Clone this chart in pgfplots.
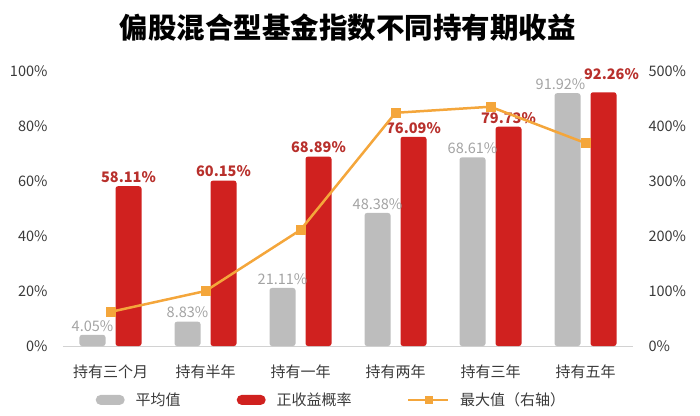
\documentclass[border=0pt]{standalone}
\usepackage{pgfplots}
\pgfplotsset{compat=1.18}
\usepackage{fontspec}
\setmainfont{Noto Sans CJK SC}

\definecolor{bargrey}{HTML}{BDBDBD}
\definecolor{barred}{HTML}{D0211F}
\definecolor{labred}{HTML}{B8302C}
\definecolor{labgrey}{HTML}{A3A3A3}
\definecolor{lineorange}{HTML}{F4A63B}
\definecolor{ticktext}{HTML}{3A3A3A}

% average return
\pgfplotstableread{
x y
0 4.05
1 8.83
2 21.11
3 48.38
4 68.61
5 91.92
}\avgdata
% probability of positive return
\pgfplotstableread{
x y
0 58.11
1 60.15
2 68.89
3 76.09
4 79.73
5 92.26
}\posdata
% maximum (right axis)
\pgfplotstableread{
x y
0 62
1 100
2 211
3 424
4 435
5 369
}\maxdata

\begin{document}
\begin{tikzpicture}
\useasboundingbox (0,0) rectangle (700pt,415pt);

\node[font=\fontsize{28.5}{31}\selectfont\bfseries, text=black] at (347.5pt,387.5pt) {偏股混合型基金指数不同持有期收益};

\begin{axis}[
    at={(63pt,69pt)}, anchor=south west,
    scale only axis, width=570pt, height=275pt,
    xmin=-0.5, xmax=5.5, ymin=0, ymax=100,
    axis line style={draw=none},
    major tick length=0pt,
    xtick={0,...,5},
    xticklabels={持有三个月,持有半年,持有一年,持有两年,持有三年,持有五年},
    xticklabel style={font=\fontsize{15}{17}\selectfont, text=ticktext, yshift=-15pt},
    ytick={0,20,...,100},
    yticklabel={\pgfmathprintnumber{\tick}\%},
    yticklabel style={font=\fontsize{14.5}{16}\selectfont, text=ticktext, xshift=-12pt},
    /pgf/number format/assume math mode=true,
    legend columns=3,
    legend style={draw=none, fill=none, at={(0.471,-0.196)}, anchor=center,
        font=\fontsize{15}{17}\selectfont, text=ticktext,
        /tikz/every odd column/.append style={column sep=9pt},
        /tikz/every even column/.append style={column sep=54pt}},
    clip=false,
]
\draw[gray!35, line width=0.8pt] (axis cs:-0.5,0) -- (axis cs:5.5,0);

\addplot[ybar, bar width=26pt, bar shift=-18pt, fill=bargrey, draw=none, rounded corners=2.5pt,
    visualization depends on={value \coordindex \as \idx},
    nodes near coords={\pgfmathprintnumber[fixed,precision=2,fixed zerofill]{\pgfplotspointmeta}\%},
    every node near coord/.append style={font=\fontsize{14.5}{16}\selectfont, text=labgrey,
        xshift={-18-7*(\idx==5)}},
    legend image code/.code={\fill[bargrey, rounded corners=5pt] (0pt,-5pt) rectangle (29pt,5pt);}]
    table[x=x,y=y] {\avgdata};
\addlegendentry{平均值}

\addplot[ybar, bar width=26pt, bar shift=18pt, fill=barred, draw=none, rounded corners=2.5pt,
    visualization depends on={value \coordindex \as \idx},
    nodes near coords={\pgfmathprintnumber[fixed,precision=2,fixed zerofill]{\pgfplotspointmeta}\%},
    every node near coord/.append style={font=\fontsize{14.5}{16}\selectfont\bfseries, text=labred,
        xshift={18+8*(\idx==5)}, yshift={9*(\idx==5)}},
    legend image code/.code={\fill[barred, rounded corners=5pt] (0pt,-5pt) rectangle (29pt,5pt);}]
    table[x=x,y=y] {\posdata};
\addlegendentry{正收益概率}

\addlegendimage{legend image code/.code={\draw[lineorange, line width=1.5pt] (0pt,0pt) -- (40pt,0pt); \fill[lineorange] (16.5pt,-3.5pt) rectangle (23.5pt,3.5pt);}}
\addlegendentry{最大值（右轴）}
\end{axis}

\begin{axis}[
    at={(63pt,69pt)}, anchor=south west,
    scale only axis, width=570pt, height=275pt,
    xmin=-0.5, xmax=5.5, ymin=0, ymax=500,
    axis line style={draw=none},
    major tick length=0pt,
    xtick=\empty,
    axis y line*=right,
    ytick={0,100,...,500},
    yticklabel={\pgfmathprintnumber{\tick}\%},
    yticklabel style={font=\fontsize{14.5}{16}\selectfont, text=ticktext, xshift=12pt},
    /pgf/number format/assume math mode=true,
    clip=false,
]
\addplot[lineorange, line width=2.5pt, mark=square*, mark size=4.5pt,
    mark options={line width=0pt}]
    table[x=x,y=y] {\maxdata};
\end{axis}
\end{tikzpicture}
\end{document}
